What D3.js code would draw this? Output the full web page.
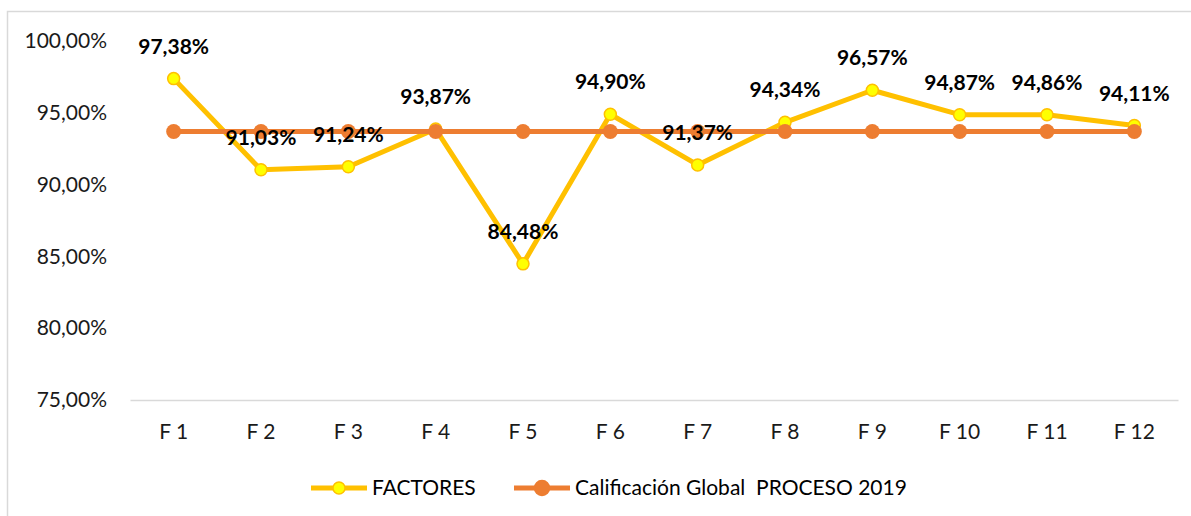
<!DOCTYPE html>
<html>
<head>
<meta charset="utf-8">
<script src="https://cdn.jsdelivr.net/npm/d3@7"></script>
<style>
	html, body { margin: 0; padding: 0; background: #fff; }
	svg { display: block; font-family: Lato, 'Noto Sans', sans-serif; }
</style>
</head>
<body>
<svg id="chart" width="1191" height="516"></svg>
<script>
'use strict';

// chart values
const categories = ['F 1', 'F 2', 'F 3', 'F 4', 'F 5', 'F 6', 'F 7', 'F 8', 'F 9', 'F 10', 'F 11', 'F 12'];
const factores = [0.9738, 0.9103, 0.9124, 0.9387, 0.8448, 0.9490, 0.9137, 0.9434, 0.9657, 0.9487, 0.9486, 0.9411];
const globalScore = [0.937, 0.937, 0.937, 0.937, 0.937, 0.937, 0.937, 0.937, 0.937, 0.937, 0.937, 0.937];
const yTicks = [0.75, 0.80, 0.85, 0.90, 0.95, 1.00];
const seriesNames = ['FACTORES', 'Calificación Global  PROCESO 2019'];

const YELLOW = '#FFC000';
const YELLOW_FILL = '#FFFF00';
const ORANGE = '#ED7D31';

const locale = d3.formatLocale({ decimal: ',', thousands: '.', grouping: [3], currency: ['', ''] });
const pct = locale.format('.2%');

const svg = d3.select('#chart');
const W = 1191, H = 516;
const plot = { left: 130, right: 1178, top: 41, bottom: 400 };

// outer chart frame (only top and left edges fall inside the picture)
svg.append('rect')
	.attr('x', 7.5).attr('y', 11.5)
	.attr('width', W + 20).attr('height', H + 20)
	.attr('fill', 'none')
	.attr('stroke', '#d9d9d9')
	.attr('stroke-width', 1.5);

const x = d3.scaleBand()
	.domain(categories)
	.range([plot.left, plot.right]);

const y = d3.scaleLinear()
	.domain([0.75, 1.0])
	.range([plot.bottom, plot.top]);

const cx = d => x(d) + x.bandwidth() / 2;

/* y axis: labels only */
const yAxis = svg.append('g')
	.attr('transform', `translate(${plot.left - 23},0)`)
	.call(d3.axisLeft(y).tickValues(yTicks).tickFormat(pct).tickSize(0).tickPadding(0));
yAxis.select('.domain').remove();
yAxis.selectAll('text')
	.attr('font-family', 'Lato, sans-serif')
	.attr('font-size', 21)
	.attr('fill', '#1a1a1a');

/* x axis */
const xAxis = svg.append('g')
	.attr('transform', `translate(0,${plot.bottom})`)
	.call(d3.axisBottom(x).tickSize(0).tickPadding(24));
xAxis.select('.domain')
	.attr('stroke', '#d9d9d9')
	.attr('stroke-width', 1.5);
xAxis.selectAll('text')
	.attr('font-family', 'Lato, sans-serif')
	.attr('font-size', 21)
	.attr('fill', '#1a1a1a');

const line = d3.line()
	.x((d, i) => cx(categories[i]))
	.y(d => y(d));

/* FACTORES series */
svg.append('path')
	.datum(factores)
	.attr('d', line)
	.attr('fill', 'none')
	.attr('stroke', YELLOW)
	.attr('stroke-width', 5)
	.attr('stroke-linejoin', 'round');

svg.append('g').selectAll('circle')
	.data(factores)
	.join('circle')
		.attr('cx', (d, i) => cx(categories[i]))
		.attr('cy', d => y(d))
		.attr('r', 6)
		.attr('fill', YELLOW_FILL)
		.attr('stroke', YELLOW)
		.attr('stroke-width', 1.5);

/* global score series, drawn over the first */
svg.append('path')
	.datum(globalScore)
	.attr('d', line)
	.attr('fill', 'none')
	.attr('stroke', ORANGE)
	.attr('stroke-width', 5);

svg.append('g').selectAll('circle')
	.data(globalScore)
	.join('circle')
		.attr('cx', (d, i) => cx(categories[i]))
		.attr('cy', d => y(d))
		.attr('r', 7.5)
		.attr('fill', ORANGE);

/* data labels above the FACTORES points */
svg.append('g').selectAll('text')
	.data(factores)
	.join('text')
		.attr('x', (d, i) => cx(categories[i]))
		.attr('y', d => y(d) - 25)
		.attr('text-anchor', 'middle')
		.attr('font-family', 'Lato, sans-serif')
		.attr('font-weight', 'bold')
		.attr('font-size', 21)
		.attr('fill', '#000')
		.text(d => pct(d));

/* legend */
const legend = svg.append('g').attr('transform', 'translate(0,488)');
const legendItems = [
	{ name: seriesNames[0], x0: 311, color: YELLOW, fill: YELLOW_FILL, r: 6 },
	{ name: seriesNames[1], x0: 514, color: ORANGE, fill: ORANGE, r: 7.5 }
];
const li = legend.selectAll('g')
	.data(legendItems)
	.join('g')
		.attr('transform', d => `translate(${d.x0},0)`);
li.append('line')
	.attr('x1', 0).attr('x2', 56)
	.attr('stroke', d => d.color)
	.attr('stroke-width', 5);
li.append('circle')
	.attr('cx', 28)
	.attr('r', d => d.r)
	.attr('fill', d => d.fill)
	.attr('stroke', d => d.color)
	.attr('stroke-width', 1.5);
li.append('text')
	.attr('x', 61)
	.attr('dy', '0.35em')
	.attr('font-family', 'Lato, sans-serif')
	.attr('font-size', 21)
	.attr('fill', '#000')
	.style('white-space', 'pre')
	.text(d => d.name);
</script>
</body>
</html>
